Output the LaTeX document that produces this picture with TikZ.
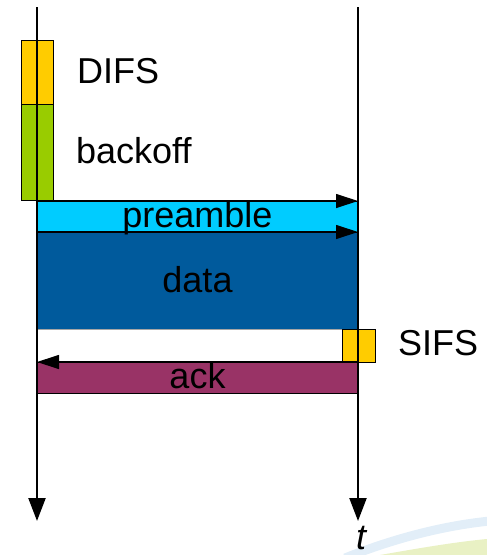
\documentclass[tikz,border=0pt]{standalone}
\usepackage{fontspec}
\setmainfont{Liberation Sans}
\usetikzlibrary{arrows.meta}
\definecolor{difsc}{HTML}{FFCC00}
\definecolor{backc}{HTML}{99CC00}
\definecolor{prec}{HTML}{00CCFF}
\definecolor{datac}{HTML}{005A9C}
\definecolor{ackc}{HTML}{993366}
\definecolor{swblue}{HTML}{E2EEF8}
\definecolor{swgreen}{HTML}{E9F1C4}
\begin{document}
\begin{tikzpicture}[x=1pt,y=-1pt,
  box/.style={draw=black, line width=0.9pt, inner sep=0pt, outer sep=0pt},
  lbl/.style={font=\fontsize{36}{40}\selectfont, inner sep=0pt},
  tline/.style={line width=2.2pt, -{Triangle[length=23pt,width=17pt]}},
  msg/.style={line width=1.2pt, -{Triangle[length=22pt,width=14pt]}}]
\useasboundingbox (0,0) rectangle (487,555);
% background swoosh
\fill[swgreen] (380,555) .. controls (420,548) and (455,542) .. (487,539) -- (487,555) -- cycle;
\draw[swblue, line width=9pt] (345,558) .. controls (390,540) and (440,526) .. (490,521);
% boxes
\node[box, fill=difsc, minimum width=32pt, minimum height=64pt] (difs) at (37,72) {};
\node[box, fill=backc, minimum width=32pt, minimum height=96pt] (backoff) at (37,152) {};
\node[box, fill=prec, minimum width=321pt, minimum height=31pt] (pre) at (197.5,216.5) {};
\node[box, fill=datac, minimum width=321pt, minimum height=97pt] (data) at (197.5,280.5) {};
\node[box, draw=gray!70, fill=white, minimum width=305pt, minimum height=33pt] (gap) at (189.5,345.5) {};
\node[box, fill=difsc, minimum width=33pt, minimum height=33pt] (sifs) at (358.5,345.5) {};
\node[box, fill=ackc, minimum width=321pt, minimum height=31pt] (ack) at (197.5,377.5) {};
% time lines
\coordinate (ltop) at (37,7);
\coordinate (lbot) at (37,521);
\coordinate (rtop) at (358,7);
\coordinate (rbot) at (358,521);
\draw[tline] (ltop) -- (lbot);
\draw[tline] (rtop) -- (rbot);
% message arrows
\draw[msg] (pre.north west) -- (pre.north east);
\draw[msg] (pre.south west) -- (pre.south east);
\draw[msg] (ack.north east) -- (ack.north west);
% labels
\node[lbl, anchor=base west] (tdifs) at (77,83) {DIFS};
\node[lbl, anchor=base west] (tback) at (76,163) {backoff};
\node[lbl, anchor=base] (tpre) at (197.5,227) {preamble};
\node[lbl, anchor=base] (tdata) at (197.5,292) {data};
\node[lbl, anchor=base west] (tsifs) at (398,355) {SIFS};
\node[lbl, anchor=base] (tack) at (197.5,388) {ack};
\node[lbl, anchor=base] (tt) at (361,549) {\itshape t};
\end{tikzpicture}
\end{document}
